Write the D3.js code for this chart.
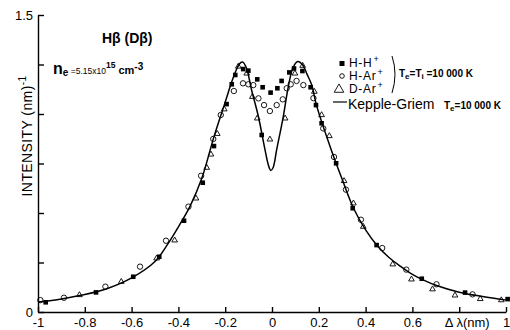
<!DOCTYPE html>
<html>
<head>
<meta charset="utf-8">
<script src="https://cdn.jsdelivr.net/npm/d3@7"></script>
<style>
  body { margin: 0; background: #fff; }
  text { font-family: "Liberation Sans", Arial, sans-serif; fill: #000; }
</style>
</head>
<body>
<div id="chart"></div>
<script>
// Kepple-Griem profile (delta lambda nm, intensity)
let profileX = [-1, -0.9, -0.8, -0.7, -0.6, -0.5, -0.45, -0.4, -0.35, -0.3, -0.25, -0.2, -0.172, -0.15, -0.137, -0.125, -0.11,
                -0.087, -0.058, -0.03, -0.015, -0.005, 0.005, 0.02, 0.048, 0.07, 0.09, 0.11, 0.13, 0.15, 0.17, 0.19,
                0.25, 0.3, 0.35, 0.4, 0.45, 0.5, 0.55, 0.6, 0.65, 0.7, 0.8, 0.9, 1];
let profileY = [0.05, 0.066, 0.088, 0.12, 0.172, 0.255, 0.335, 0.43, 0.535, 0.675, 0.877, 1.06, 1.163, 1.23, 1.256, 1.262, 1.235,
                1.12, 0.986, 0.82, 0.74, 0.715, 0.73, 0.82, 0.986, 1.14, 1.235, 1.265, 1.25, 1.2, 1.146, 1.045,
                0.83, 0.67, 0.52, 0.415, 0.335, 0.275, 0.23, 0.19, 0.16, 0.135, 0.1, 0.078, 0.06];

// H-H+ (filled squares)
let hhX = [-0.967, -0.752, -0.593, -0.482, -0.376, -0.296, -0.248, -0.194, -0.172, -0.157, -0.123, -0.101, -0.063, -0.044,
           -0.04, -0.006, 0.023, 0.041, 0.074, 0.094, 0.13, 0.165, 0.188, 0.212, 0.274, 0.345, 0.447, 0.64, 0.825, 1.007];
let hhY = [0.049, 0.099, 0.178, 0.279, 0.461, 0.653, 0.838, 1.05, 1.15, 1.197, 1.227, 1.219, 1.175, 0.894,
           1.135, 1.108, 1.13, 1.167, 1.21, 1.23, 1.217, 1.135, 1.045, 0.953, 0.751, 0.524, 0.338, 0.168, 0.098, 0.065];

// H-Ar+ (open circles)
let harX = [-0.99, -0.889, -0.712, -0.564, -0.453, -0.357, -0.303, -0.251, -0.219, -0.163, -0.124, -0.101, -0.08, -0.058,
            -0.034, -0.009, 0.02, 0.046, 0.063, 0.08, 0.105, 0.134, 0.177, 0.219, 0.265, 0.316, 0.38, 0.471, 0.574, 0.703, 0.857];
let harY = [0.06, 0.072, 0.128, 0.229, 0.36, 0.532, 0.688, 0.874, 0.995, 1.116, 1.155, 1.15, 1.146, 1.079,
            1.045, 1.015, 1.045, 1.074, 1.13, 1.15, 1.167, 1.146, 1.08, 0.927, 0.783, 0.618, 0.466, 0.323, 0.214, 0.14, 0.089];

// D-Ar+ (open triangles)
let darX = [-0.823, -0.644, -0.493, -0.416, -0.325, -0.279, -0.261, -0.234, -0.204, -0.144, -0.108, -0.084, -0.063, -0.009,
            0.056, 0.098, 0.131, 0.181, 0.212, 0.245, 0.308, 0.348, 0.39, 0.516, 0.596, 0.686, 0.782, 0.89, 0.98];
let darY = [0.086, 0.153, 0.271, 0.362, 0.574, 0.729, 0.796, 0.9, 1.024, 1.24, 1.205, 1.087, 0.978, 0.872,
            0.978, 1.205, 1.244, 1.113, 0.995, 0.889, 0.662, 0.549, 0.431, 0.241, 0.165, 0.115, 0.084, 0.066, 0.06];

let xTicks = [-1, -0.8, -0.6, -0.4, -0.2, 0, 0.2, 0.4, 0.6, 0.8, 1];
let yTicks = [0, 0.25, 0.5, 0.75, 1, 1.25, 1.5];
let yLabelled = [0, 1.5];
let legendNames = ["H-H", "H-Ar", "D-Ar"];

let width = 510, height = 330;
let margin = {top: 15, bottom: 18, left: 38, right: 4};

let xScale = d3.scaleLinear().domain([-1, 1]).range([margin.left, width - margin.right]);
let yScale = d3.scaleLinear().domain([0, 1.5]).range([height - margin.bottom, margin.top]);

let svg = d3.select("#chart").append("svg")
    .attr("width", width)
    .attr("height", height);

// axes
let xAxis = d3.axisBottom(xScale)
    .tickValues(xTicks)
    .tickSize(-5)
    .tickSizeOuter(0)
    .tickPadding(6)
    .tickFormat(d => d === 0.8 ? "" : String(d));

svg.append("g")
    .attr("transform", "translate(0," + yScale(0) + ")")
    .call(xAxis)
    .call(g => g.selectAll("text").attr("font-size", 13).attr("font-family", null))
    .call(g => g.selectAll("line, path").attr("stroke-width", 1.4));

let yAxis = d3.axisLeft(yScale)
    .tickValues(yTicks)
    .tickSize(-6)
    .tickSizeOuter(0)
    .tickPadding(5)
    .tickFormat(d => yLabelled.includes(d) ? String(d) : "");

svg.append("g")
    .attr("transform", "translate(" + xScale(-1) + ",0)")
    .call(yAxis)
    .call(g => g.selectAll("text").attr("font-size", 13).attr("font-family", null))
    .call(g => g.selectAll("line, path").attr("stroke-width", 1.4));

svg.append("text")
    .attr("x", xScale(0.8) + 8)
    .attr("y", yScale(0) + 15)
    .attr("text-anchor", "middle")
    .attr("font-size", 13)
    .text("Δ λ(nm)");

// y label
let yLab = svg.append("text")
    .attr("transform", "translate(32," + 136 + ") rotate(-90)")
    .attr("text-anchor", "middle")
    .attr("font-size", 14)
    .attr("letter-spacing", 0.4);
yLab.append("tspan").text("INTENSITY (nm)");
yLab.append("tspan").attr("dy", -6).attr("font-size", 10).text("-1");

// profile curve
let profile = profileX.map((x, i) => ({x: x, y: profileY[i]}));
let line = d3.line()
    .x(d => xScale(d.x))
    .y(d => yScale(d.y))
    .curve(d3.curveCatmullRom.alpha(0.5));

svg.append("path")
    .datum(profile)
    .attr("d", line)
    .attr("fill", "none")
    .attr("stroke", "#000")
    .attr("stroke-width", 1.5);

// markers
function drawSquare(g, x, y, s) {
    g.append("rect").attr("x", x - s / 2).attr("y", y - s / 2)
        .attr("width", s).attr("height", s).attr("fill", "#000");
}
function drawCircle(g, x, y, r) {
    g.append("circle").attr("cx", x).attr("cy", y).attr("r", r)
        .attr("fill", "none").attr("stroke", "#000").attr("stroke-width", 0.9);
}
function drawTriangle(g, x, y, size) {
    g.append("path")
        .attr("transform", "translate(" + x + "," + y + ")")
        .attr("d", d3.symbol(d3.symbolTriangle, size)())
        .attr("fill", "none").attr("stroke", "#000").attr("stroke-width", 0.9);
}

let marks = svg.append("g");
darX.forEach((x, i) => drawTriangle(marks, xScale(x), yScale(darY[i]), 14));
harX.forEach((x, i) => drawCircle(marks, xScale(x), yScale(harY[i]), 2.7));
hhX.forEach((x, i) => drawSquare(marks, xScale(x), yScale(hhY[i]), 4.6));

// title texts
svg.append("text")
    .attr("x", 102).attr("y", 43)
    .attr("font-size", 14).attr("font-weight", "bold")
    .text("Hβ (Dβ)");

let ne = svg.append("text").attr("x", 53).attr("y", 74).attr("font-weight", "bold");
ne.append("tspan").attr("font-size", 16).text("n");
ne.append("tspan").attr("font-size", 10).attr("dy", 2).text("e");
ne.append("tspan").attr("font-size", 8.5).attr("font-weight", "normal").attr("dy", -2).text(" =5.15x10");
ne.append("tspan").attr("font-size", 8.5).attr("dy", -6).text("15");
ne.append("tspan").attr("font-size", 11).attr("dy", 6).text(" cm");
ne.append("tspan").attr("font-size", 10).attr("dy", -4).text("-3");

// legend
let legend = svg.append("g");
drawSquare(legend, 342, 63.5, 5);
drawCircle(legend, 342, 76, 2.3);
drawTriangle(legend, 339, 89.5, 40);

let legendY = [67, 80, 92.5];
legendNames.forEach((name, i) => {
    let t = legend.append("text").attr("x", 349).attr("y", legendY[i])
        .attr("font-size", 12).attr("letter-spacing", 0.7).text(name);
    let w = t.node().getComputedTextLength();
    legend.append("text").attr("x", 350 + w).attr("y", legendY[i] - 5)
        .attr("font-size", 9).text("+");
});

legend.append("path")
    .attr("d", "M392,56 Q398,74 392,93")
    .attr("fill", "none").attr("stroke", "#000").attr("stroke-width", 1);

let tt = legend.append("text").attr("x", 399).attr("y", 77).attr("font-size", 10).attr("font-weight", "bold");
tt.append("tspan").text("T");
tt.append("tspan").attr("dy", 2).attr("font-size", 8).text("e");
tt.append("tspan").attr("dy", -2).text("=T");
tt.append("tspan").attr("dy", 2).attr("font-size", 8).text("i");
tt.append("tspan").attr("dy", -2).text(" =10 000 K");

legend.append("line")
    .attr("x1", 333).attr("x2", 347).attr("y1", 102).attr("y2", 102)
    .attr("stroke", "#000").attr("stroke-width", 1.2);
legend.append("text").attr("x", 348).attr("y", 108.5).attr("font-size", 14).text("Kepple-Griem");

let tk = legend.append("text").attr("x", 444).attr("y", 109).attr("font-size", 10).attr("font-weight", "bold");
tk.append("tspan").text("T");
tk.append("tspan").attr("dy", 2).attr("font-size", 8).text("e");
tk.append("tspan").attr("dy", -2).text("=10 000 K");
</script>
</body>
</html>
